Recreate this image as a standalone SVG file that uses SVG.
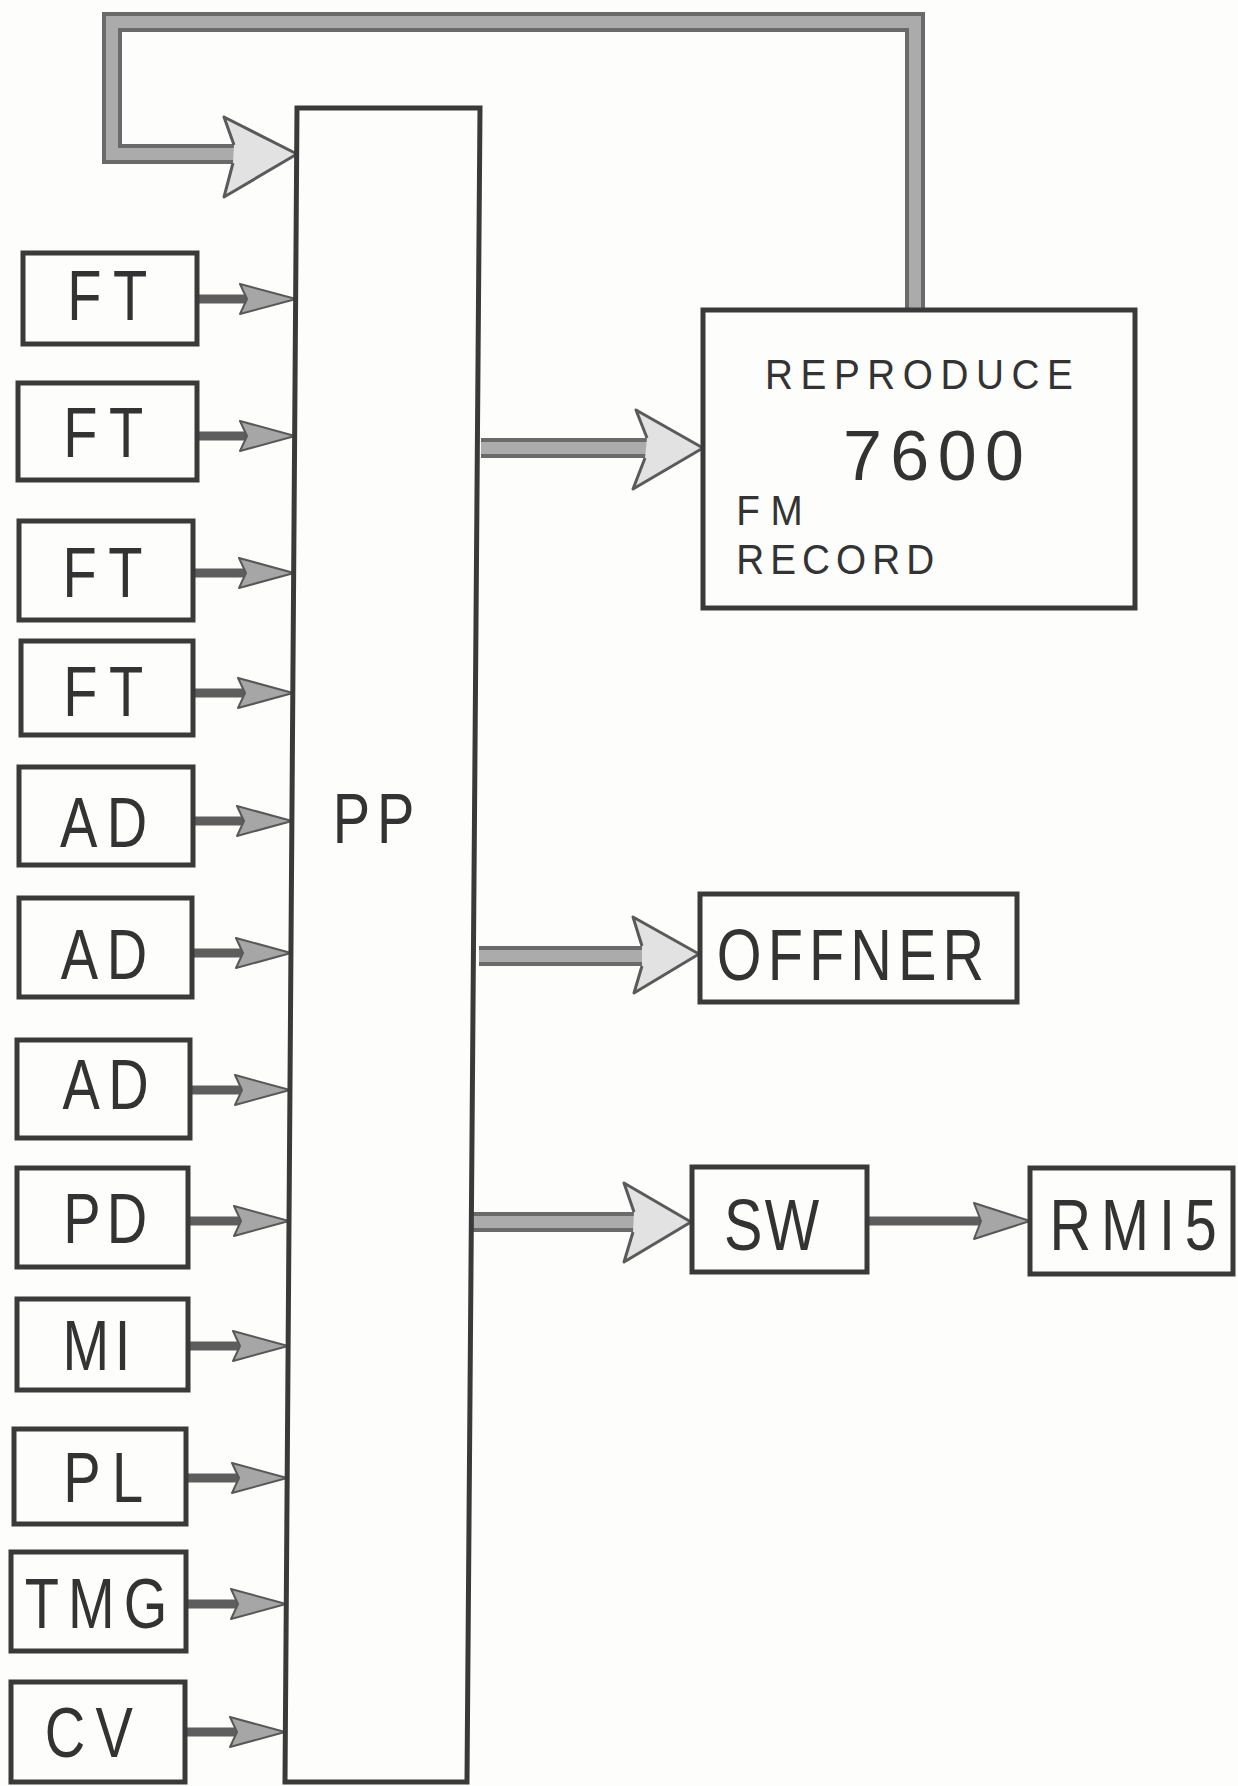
<svg xmlns="http://www.w3.org/2000/svg" width="1238" height="1786" viewBox="0 0 1238 1786">
<defs>
<style>
.box{fill:none;stroke:#3a3a3a;stroke-width:5;stroke-linejoin:miter}
.lbl{font-family:"Liberation Sans",Arial,sans-serif;fill:#333;font-size:70px}
.big{font-family:"Liberation Sans",Arial,sans-serif;fill:#333;font-size:72px}
.sm{font-family:"Liberation Sans",Arial,sans-serif;fill:#333;font-size:43px}
.bandO{fill:none;stroke:#6a6a6a;stroke-width:20;stroke-linejoin:miter}
.bandI{fill:none;stroke:#ababab;stroke-width:12;stroke-linejoin:miter}
.bigHead{fill:#e2e2e2;stroke:#5a5a5a;stroke-width:3;stroke-linejoin:round}
.shaft{stroke:#5e5e5e;stroke-width:9}
.head{fill:#a6a6a6;stroke:#585858;stroke-width:2;stroke-linejoin:round}
</style>
</defs>
<rect width="1238" height="1786" fill="#fdfdfb"/>

<g id="connectors">
  <!-- feedback loop from 7600 back to PP -->
  <path class="bandO" d="M915,310 L915,22 L112,22 L112,154 L236,154"/>
  <path class="bandI" d="M915,310 L915,22 L112,22 L112,154 L236,154"/>
  <path class="bigHead" d="M234,145 L224,117 L297,154 L224,197 L233,163"/>

  <!-- PP to REPRODUCE -->
  <path class="bandO" d="M481,448 L650,448"/>
  <path class="bandI" d="M481,448 L650,448"/>
  <path class="bigHead" d="M647,438 L636,410 L703,448 L633,489 L645,458"/>

  <!-- PP to OFFNER -->
  <path class="bandO" d="M479,956 L645,956"/>
  <path class="bandI" d="M479,956 L645,956"/>
  <path class="bigHead" d="M642,946 L633,917 L699,954 L634,993 L642,966"/>

  <!-- PP to SW -->
  <path class="bandO" d="M473,1222 L636,1222"/>
  <path class="bandI" d="M473,1222 L636,1222"/>
  <path class="bigHead" d="M634,1212 L624,1183 L691,1222 L624,1262 L633,1232"/>

  <!-- SW to RMI5 -->
  <line class="shaft" x1="867" y1="1221" x2="980" y2="1221"/>
  <path class="head" d="M974,1203 L1030,1221 L974,1239 L981,1221 Z"/>

  <!-- inputs to PP -->
  <line class="shaft" x1="197" y1="299" x2="246" y2="299"/>
  <path class="head" d="M240,284 L296,299 L240,314 L247,299 Z"/>
  <line class="shaft" x1="197" y1="436" x2="246" y2="436"/>
  <path class="head" d="M240,421 L295,436 L240,451 L247,436 Z"/>
  <line class="shaft" x1="193" y1="573" x2="245" y2="573"/>
  <path class="head" d="M239,558 L294,573 L239,588 L246,573 Z"/>
  <line class="shaft" x1="193" y1="693" x2="244" y2="693"/>
  <path class="head" d="M238,678 L293,693 L238,708 L245,693 Z"/>
  <line class="shaft" x1="193" y1="821" x2="243" y2="821"/>
  <path class="head" d="M237,806 L292,821 L237,836 L244,821 Z"/>
  <line class="shaft" x1="192" y1="953" x2="242" y2="953"/>
  <path class="head" d="M236,938 L291,953 L236,968 L243,953 Z"/>
  <line class="shaft" x1="190" y1="1090" x2="241" y2="1090"/>
  <path class="head" d="M235,1075 L290,1090 L235,1105 L242,1090 Z"/>
  <line class="shaft" x1="188" y1="1221" x2="240" y2="1221"/>
  <path class="head" d="M234,1206 L289,1221 L234,1236 L241,1221 Z"/>
  <line class="shaft" x1="188" y1="1346" x2="239" y2="1346"/>
  <path class="head" d="M233,1331 L288,1346 L233,1361 L240,1346 Z"/>
  <line class="shaft" x1="186" y1="1478" x2="238" y2="1478"/>
  <path class="head" d="M232,1463 L287,1478 L232,1493 L239,1478 Z"/>
  <line class="shaft" x1="186" y1="1604" x2="237" y2="1604"/>
  <path class="head" d="M231,1589 L286,1604 L231,1619 L238,1604 Z"/>
  <line class="shaft" x1="186" y1="1732" x2="236" y2="1732"/>
  <path class="head" d="M230,1717 L285,1732 L230,1747 L237,1732 Z"/>
</g>

<g id="PP">
  <path class="box" d="M297,108 L480,108 L467,1782 L285,1782 Z"/>
  <text class="lbl" transform="scale(0.8,1)" x="416" y="843" textLength="102">PP</text>
</g>

<g id="FT1">
  <rect class="box" x="23" y="253" width="174" height="91"/>
  <text class="lbl" transform="scale(0.8,1)" x="84" y="320" textLength="100">FT</text>
</g>
<g id="FT2">
  <rect class="box" x="18" y="383" width="179" height="97"/>
  <text class="lbl" transform="scale(0.8,1)" x="79" y="457" textLength="100">FT</text>
</g>
<g id="FT3">
  <rect class="box" x="19" y="521" width="174" height="99"/>
  <text class="lbl" transform="scale(0.8,1)" x="78" y="597" textLength="100">FT</text>
</g>
<g id="FT4">
  <rect class="box" x="21" y="641" width="172" height="94"/>
  <text class="lbl" transform="scale(0.8,1)" x="79" y="716" textLength="100">FT</text>
</g>
<g id="AD1">
  <rect class="box" x="19" y="767" width="174" height="98"/>
  <text class="lbl" transform="scale(0.8,1)" x="75" y="847" textLength="109">AD</text>
</g>
<g id="AD2">
  <rect class="box" x="19" y="898" width="173" height="99"/>
  <text class="lbl" transform="scale(0.8,1)" x="76" y="979" textLength="108">AD</text>
</g>
<g id="AD3">
  <rect class="box" x="17" y="1040" width="173" height="98"/>
  <text class="lbl" transform="scale(0.8,1)" x="78" y="1109" textLength="108">AD</text>
</g>
<g id="PD">
  <rect class="box" x="17" y="1168" width="171" height="99"/>
  <text class="lbl" transform="scale(0.8,1)" x="79" y="1243" textLength="105">PD</text>
</g>
<g id="MI">
  <rect class="box" x="17" y="1299" width="171" height="91"/>
  <text class="lbl" transform="scale(0.8,1)" x="78" y="1370" textLength="85">MI</text>
</g>
<g id="PL">
  <rect class="box" x="14" y="1429" width="172" height="95"/>
  <text class="lbl" transform="scale(0.8,1)" x="79" y="1502" textLength="100">PL</text>
</g>
<g id="TMG">
  <rect class="box" x="11" y="1552" width="175" height="99"/>
  <text class="lbl" transform="scale(0.8,1)" x="31" y="1628" textLength="178">TMG</text>
</g>
<g id="CV">
  <rect class="box" x="11" y="1682" width="174" height="100"/>
  <text class="lbl" transform="scale(0.8,1)" x="56" y="1757" textLength="110">CV</text>
</g>

<g id="REC7600">
  <rect class="box" x="703" y="310" width="432" height="298"/>
  <text class="sm" transform="scale(0.9,1)" x="850" y="389" textLength="342">REPRODUCE</text>
  <text class="lbl" x="843" y="480" textLength="181">7600</text>
  <text class="sm" transform="scale(0.9,1)" x="818" y="525" textLength="74">FM</text>
  <text class="sm" transform="scale(0.9,1)" x="818" y="574" textLength="220">RECORD</text>
</g>

<g id="OFFNER">
  <rect class="box" x="700" y="894" width="317" height="108"/>
  <text class="big" transform="scale(0.8,1)" x="896" y="980" textLength="334">OFFNER</text>
</g>

<g id="SW">
  <rect class="box" x="692" y="1167" width="175" height="105"/>
  <text class="big" transform="scale(0.8,1)" x="905" y="1250" textLength="119">SW</text>
</g>

<g id="RMI5">
  <rect class="box" x="1030" y="1168" width="203" height="106"/>
  <text class="big" transform="scale(0.8,1)" x="1312" y="1250" textLength="209">RMI5</text>
</g>
</svg>
